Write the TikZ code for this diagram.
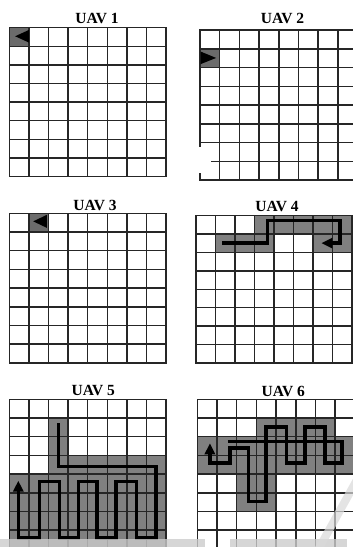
\documentclass[tikz,border=0pt]{standalone}
\usepackage{fontspec}
\setmainfont{Liberation Serif}
\usetikzlibrary{arrows.meta}
\tikzset{
  gl/.style={line width=1.5pt, draw=black!85, line cap=rect},
  pathcell/.style={fill=black!50},
  startcell/.style={fill=black!58},
  fpath/.style={line width=3.3pt, draw=black, line join=miter, -{Triangle[width=10pt,length=11pt]}},
  ttl/.style={font=\bfseries\fontsize{15.5}{15.5}\selectfont, anchor=base, inner sep=0pt},
  headtri/.style={fill=black},
}
\newcommand\uavgrid{\foreach \i in {0,...,8}{\draw[gl] (\i,0) -- (\i,8); \draw[gl] (0,\i) -- (8,\i);}}
\begin{document}
\begin{tikzpicture}[x=1pt,y=-1pt]
\useasboundingbox (0,0) rectangle (353,547);
\clip (0,0) rectangle (353,547);
\fill[white] (0,0) rectangle (353,547);
% titles
\node[ttl] (t1) at (97,23.3) {UAV 1};
\node[ttl] (t2) at (282.5,23.3) {UAV 2};
\node[ttl] (t3) at (95,210.7) {UAV 3};
\node[ttl] (t4) at (277,211.5) {UAV 4};
\node[ttl] (t5) at (93.3,395) {UAV 5};
\node[ttl] (t6) at (283.3,396) {UAV 6};
% UAV 1
\begin{scope}[shift={(9.3pt,-27.7pt)}, x=19.6pt, y=-18.6pt]
  \fill[startcell] (0,0) rectangle (1,1);
  \uavgrid
  \fill[headtri] (0.3,0.46) -- (1,0.12) -- (1,0.8) -- cycle;
\end{scope}
% UAV 2
\begin{scope}[shift={(200pt,-30pt)}, x=19.7pt, y=-18.75pt]
  \fill[startcell] (0,1) rectangle (1,2);
  \uavgrid
  \fill[headtri] (0.03,1.15) -- (0.82,1.49) -- (0.03,1.82) -- cycle;
\end{scope}
\fill[white] (195,147) rectangle (211,173);
% UAV 3
\begin{scope}[shift={(9.3pt,-213.3pt)}, x=19.6pt, y=-18.7pt]
  \fill[startcell] (1,0) rectangle (2,1);
  \uavgrid
  \fill[headtri] (1.22,0.43) -- (1.92,0.08) -- (1.92,0.78) -- cycle;
\end{scope}
% UAV 4
\begin{scope}[shift={(196pt,-215.7pt)}, x=19.5pt, y=-18.4pt]
  \fill[pathcell] (3,0) rectangle (8,1);
  \fill[pathcell] (1,1) rectangle (4,2);
  \fill[pathcell] (6,1) rectangle (8,2);
  \uavgrid
  \draw[fpath] (1.35,1.49) -- (3.65,1.49) -- (3.65,0.27) -- (7.38,0.27) -- (7.38,1.49) -- (6.43,1.49);
\end{scope}
% UAV 5
\begin{scope}[shift={(9.3pt,-399.3pt)}, x=19.6pt, y=-18.7pt]
  \fill[pathcell] (2,1) rectangle (3,3);
  \fill[pathcell] (2,3) rectangle (8,4);
  \fill[pathcell] (0,4) rectangle (8,8);
  \uavgrid
  \draw[fpath] (2.5,1.28) -- (2.5,3.6) -- (7.48,3.6) -- (7.48,7.42) -- (6.5,7.42) -- (6.5,4.4)
    -- (5.45,4.4) -- (5.45,7.42) -- (4.47,7.42) -- (4.47,4.4) -- (3.52,4.4) -- (3.52,7.42)
    -- (2.55,7.42) -- (2.55,4.4) -- (1.53,4.4) -- (1.53,7.42) -- (0.46,7.42) -- (0.46,4.35);
\end{scope}
% UAV 6
\begin{scope}[shift={(197.3pt,-399.3pt)}, x=19.7pt, y=-18.7pt]
  \fill[pathcell] (3,1) rectangle (7,2);
  \fill[pathcell] (0,2) rectangle (8,4);
  \fill[pathcell] (2,4) rectangle (4,6);
  \uavgrid
  \draw[fpath] (1.55,2.27) -- (7.35,2.27) -- (7.35,3.4) -- (6.48,3.4) -- (6.48,1.48) -- (5.47,1.48)
    -- (5.47,3.4) -- (4.54,3.4) -- (4.54,1.48) -- (3.49,1.48) -- (3.49,5.45) -- (2.59,5.45)
    -- (2.59,2.6) -- (1.66,2.6) -- (1.66,3.4) -- (0.64,3.4) -- (0.64,2.35);
\end{scope}
% scan artefacts: bottom band and diagonal stroke
\fill[black!20, opacity=0.8] (0,539) rectangle (205,547);
\fill[black!20, opacity=0.8] (230,539) rectangle (347,547);
\draw[black!15, opacity=0.7, line width=8pt] (318,550) -- (358,478);
\end{tikzpicture}
\end{document}
